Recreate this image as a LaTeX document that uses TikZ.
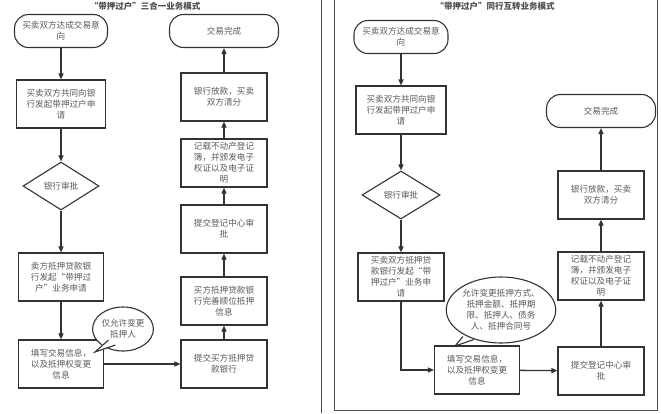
\documentclass[tikz,border=0pt]{standalone}
\usepackage{fontspec}
\setmainfont{Noto Sans CJK SC}
\usetikzlibrary{shapes.geometric,arrows.meta}
\begin{document}
\begin{tikzpicture}[x=1pt,y=-1pt,
  font=\fontsize{8.6}{11}\selectfont, text=black!65,
  every node/.style={align=center, line width=1.1pt, draw=black!80},
  box/.style={rectangle, minimum width=86pt, minimum height=48pt},
  term/.style={rectangle, rounded corners=14pt, minimum width=94pt, minimum height=33pt},
  dec/.style={diamond, aspect=1.6, minimum width=76pt, minimum height=48pt, inner sep=0pt},
  flow/.style={-{Triangle[length=6pt,width=5pt]}, line width=1.3pt, draw=black!80},
  ttl/.style={draw=none, font=\fontsize{8.5}{10}\selectfont\bfseries, text=black!70},
  bub/.style={ellipse, draw=black!80, fill=white, line width=1.1pt, inner sep=0pt}]
\useasboundingbox (0,0) rectangle (661,413);
\draw[line width=0.8pt, black!70] (321,0) -- (321,413);
\draw[line width=0.8pt, black!70] (334,0) -- (334,410) -- (657,410) -- (657,0);
% left
\node[ttl] (t1) at (145,6) {“带押过户”三合一业务模式};
\node[term, minimum width=93pt] (a1) at (61,31) {买卖双方达成交易意\\向};
\node[box, minimum width=89pt] (a2) at (61,104) {买卖双方共同向银\\行发起带押过户申\\请};
\node[dec] (a3) at (61,186) {银行审批};
\node[box, minimum width=85pt] (a4) at (61,277) {卖方抵押贷款银\\行发起“带押过\\户”业务申请};
\node[box, minimum width=85pt] (a5) at (61,364) {填写交易信息，\\以及抵押权变更\\信息};
\node[term, minimum width=109pt] (b1) at (224,31) {交易完成};
\node[box] (b2) at (224,97) {银行放款，买卖\\双方清分};
\node[box] (b3) at (224,163) {记载不动产登记\\簿，并颁发电子\\权证以及电子证\\明};
\node[box] (b4) at (224,229) {提交登记中心审\\批};
\node[box] (b5) at (224,301) {买方抵押贷款银\\行完善顺位抵押\\信息};
\node[box] (b6) at (224,364) {提交买方抵押贷\\款银行};
\foreach \u/\v in {a1/a2,a2/a3,a3/a4,a4/a5,a5/b6,b6/b5,b5/b4,b4/b3,b3/b2,b2/b1}
  \draw[flow] (\u) -- (\v);
\coordinate (p1) at (95,352);
\node[bub, minimum width=60pt, minimum height=44pt] (c1) at (123,329) {仅允许变更\\抵押人};
\fill[white] (108,339) -- (p1) -- (115,344) -- cycle;
\draw[line width=1.1pt, black!80] (108.5,340) -- (p1) -- (115.5,345);
% right
\node[ttl] (t2) at (495,6) {“带押过户”同行互转业务模式};
\node[term] (r1) at (401,37) {买卖双方达成交易意\\向};
\node[box, minimum width=90pt] (r2) at (401,110) {买卖双方共同向银\\行发起带押过户申\\请};
\node[dec, minimum width=78pt] (r3) at (401,195) {银行审批};
\node[box] (r4) at (401,277) {买卖双方抵押贷\\款银行发起“带\\押过户”业务申\\请};
\node[box, minimum width=85pt] (r5) at (477,370) {填写交易信息，\\以及抵押权变更\\信息};
\node[term, minimum width=109pt] (s1) at (601,111) {交易完成};
\node[box] (s2) at (601,195) {银行放款，买卖\\双方清分};
\node[box] (s3) at (601,276) {记载不动产登记\\簿，并颁发电子\\权证以及电子证\\明};
\node[box] (s4) at (601,371) {提交登记中心审\\批};
\foreach \u/\v in {r1/r2,r2/r3,r3/r4,r5/s4,s4/s3,s3/s2,s2/s1}
  \draw[flow] (\u) -- (\v);
\draw[flow] (r4) |- (r5);
\coordinate (p2) at (455,346);
\node[bub, minimum width=86pt, minimum height=66pt] (c2) at (501,310) {允许变更抵押方式、\\抵押金额、抵押期\\限、抵押人、债务\\人、抵押合同号};
\fill[white] (463,337) -- (p2) -- (474,340) -- cycle;
\draw[line width=1.1pt, black!80] (463,336.5) -- (p2) -- (474,339.5);
\end{tikzpicture}
\end{document}
